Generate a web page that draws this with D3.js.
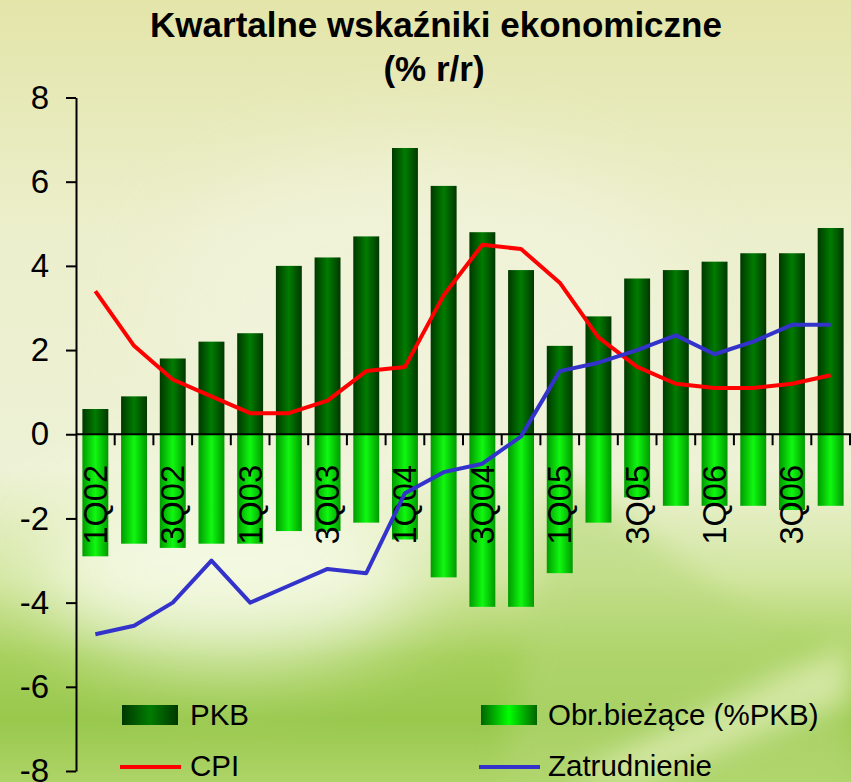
<!DOCTYPE html>
<html>
<head>
<meta charset="utf-8">
<script src="https://cdn.jsdelivr.net/npm/d3@7/dist/d3.min.js"></script>
<style>
  body { margin: 0; padding: 0; overflow: hidden; }
  svg { display: block; font-family: "Liberation Sans", Arial, sans-serif; }
</style>
</head>
<body>
<svg id="chart"></svg>
<script>
'use strict';

// quarters 1Q02 .. 4Q06
const quarters = ['1Q02','2Q02','3Q02','4Q02','1Q03','2Q03','3Q03','4Q03','1Q04','2Q04',
	'3Q04','4Q04','1Q05','2Q05','3Q05','4Q05','1Q06','2Q06','3Q06','4Q06'];

const pkb = [0.6, 0.9, 1.8, 2.2, 2.4, 4.0, 4.2, 4.7, 6.8, 5.9,
	4.8, 3.9, 2.1, 2.8, 3.7, 3.9, 4.1, 4.3, 4.3, 4.9];
const obrBiezace = [-2.9, -2.6, -2.7, -2.6, -2.6, -2.3, -2.3, -2.1, -2.5, -3.4,
	-4.1, -4.1, -3.3, -2.1, -1.5, -1.7, -1.7, -1.7, -1.8, -1.7];
const cpi = [3.4, 2.1, 1.3, 0.9, 0.5, 0.5, 0.8, 1.5, 1.6, 3.3,
	4.5, 4.4, 3.6, 2.3, 1.6, 1.2, 1.1, 1.1, 1.2, 1.4];
const zatrudnienie = [-4.75, -4.55, -4.0, -3.0, -4.0, -3.6, -3.2, -3.3, -1.4, -0.9,
	-0.7, -0.05, 1.5, 1.7, 2.0, 2.35, 1.9, 2.2, 2.6, 2.6];

const yTicks = [-8, -6, -4, -2, 0, 2, 4, 6, 8];

const width = 851, height = 782;
const svg = d3.select('#chart').attr('width', width).attr('height', height);
const defs = svg.append('defs');

// --- background ---
let bg = defs.append('linearGradient').attr('id', 'bg').attr('x1', 0).attr('y1', 0).attr('x2', 0).attr('y2', 1);
[[0, '#e3e5a9'], [0.3, '#ecefcc'], [0.6, '#eef2d6'], [0.74, '#d2e6a0'], [0.84, '#a6d05c'], [0.92, '#98c84c'], [1, '#aed468']]
	.forEach(s => bg.append('stop').attr('offset', s[0]).attr('stop-color', s[1]));

defs.append('filter').attr('id', 'blur').attr('x', '-50%').attr('y', '-50%').attr('width', '200%').attr('height', '200%')
	.append('feGaussianBlur').attr('stdDeviation', 40);
defs.append('filter').attr('id', 'blur2').attr('x', '-50%').attr('y', '-50%').attr('width', '200%').attr('height', '200%')
	.append('feGaussianBlur').attr('stdDeviation', 14);

svg.append('rect').attr('width', width).attr('height', height).attr('fill', 'url(#bg)');
svg.append('ellipse').attr('cx', 230).attr('cy', 570).attr('rx', 190).attr('ry', 90)
	.attr('fill', '#fbfdf0').attr('opacity', 0.8).attr('filter', 'url(#blur)');
svg.append('ellipse').attr('cx', 420).attr('cy', 300).attr('rx', 260).attr('ry', 150)
	.attr('fill', '#f3f5e0').attr('opacity', 0.6).attr('filter', 'url(#blur)');
// greener wedge lower right
svg.append('path').attr('d', 'M560,470 L851,690 L851,782 L500,782 Z')
	.attr('fill', '#b5d878').attr('opacity', 0.55).attr('filter', 'url(#blur2)');
// light streak bottom right
svg.append('path').attr('d', 'M560,782 L851,640 L851,700 L640,782 Z')
	.attr('fill', '#e4f0bc').attr('opacity', 0.7).attr('filter', 'url(#blur2)');

// --- bar gradients ---
let gPkb = defs.append('linearGradient').attr('id', 'gPkb');
[[0, '#003800'], [0.5, '#007c00'], [1, '#003800']]
	.forEach(s => gPkb.append('stop').attr('offset', s[0]).attr('stop-color', s[1]));
let gObr = defs.append('linearGradient').attr('id', 'gObr');
[[0, '#009a00'], [0.5, '#10f810'], [1, '#009a00']]
	.forEach(s => gObr.append('stop').attr('offset', s[0]).attr('stop-color', s[1]));
let gObrLeg = defs.append('linearGradient').attr('id', 'gObrLeg');
[[0, '#006400'], [0.5, '#00ff00'], [1, '#006400']]
	.forEach(s => gObrLeg.append('stop').attr('offset', s[0]).attr('stop-color', s[1]));

// --- scales ---
const x = d3.scaleBand().domain(quarters).range([76, 850]).paddingInner(0.33).paddingOuter(0.165);
const y = d3.scaleLinear().domain([-8, 8]).range([771, 97.5]);
const cx = d => x(d) + x.bandwidth() / 2;

// --- bars ---
svg.append('g').selectAll('rect').data(quarters).join('rect')
	.attr('x', d => x(d)).attr('width', x.bandwidth())
	.attr('y', (d, i) => y(pkb[i])).attr('height', (d, i) => y(0) - y(pkb[i]))
	.attr('fill', 'url(#gPkb)');
svg.append('g').selectAll('rect').data(quarters).join('rect')
	.attr('x', d => x(d)).attr('width', x.bandwidth())
	.attr('y', y(0)).attr('height', (d, i) => y(obrBiezace[i]) - y(0))
	.attr('fill', 'url(#gObr)');

// --- category labels (every second one) ---
svg.append('g').selectAll('text').data(quarters.filter((d, i) => i % 2 === 0)).join('text')
	.attr('transform', d => `translate(${cx(d) + 11.5},465) rotate(-90)`)
	.attr('text-anchor', 'end')
	.attr('font-size', 32.5)
	.attr('fill', '#000')
	.text(d => d);

// --- zero line + category ticks ---
const y0 = y(0);
svg.append('line').attr('x1', 76).attr('x2', 851).attr('y1', y0).attr('y2', y0)
	.attr('stroke', '#000').attr('stroke-width', 2);
svg.append('g').selectAll('line').data(quarters).join('line')
	.attr('x1', d => x(d) - x.step() * x.paddingInner() / 2 + x.step())
	.attr('x2', d => x(d) - x.step() * x.paddingInner() / 2 + x.step())
	.attr('y1', y0).attr('y2', y0 + 11)
	.attr('stroke', '#000').attr('stroke-width', 2);

// --- y axis ---
const yAxis = svg.append('g').attr('transform', 'translate(76,0)')
	.call(d3.axisLeft(y).tickValues(yTicks).tickSize(10).tickSizeOuter(0).tickPadding(17).tickFormat(d => String(d)));
yAxis.select('.domain').attr('stroke-width', 2);
yAxis.selectAll('.tick line').attr('stroke-width', 2);
yAxis.selectAll('.tick text').attr('font-size', 33).attr('font-family', '"Liberation Sans", Arial, sans-serif').attr('fill', '#000');

// --- lines ---
const line = d3.line().x((d, i) => cx(quarters[i])).y(d => y(d));
svg.append('path').datum(cpi).attr('d', line)
	.attr('fill', 'none').attr('stroke', '#ff0000').attr('stroke-width', 4).attr('stroke-linejoin', 'round');
svg.append('path').datum(zatrudnienie).attr('d', line)
	.attr('fill', 'none').attr('stroke', '#3333cc').attr('stroke-width', 4).attr('stroke-linejoin', 'round');

// --- title ---
svg.append('text').attr('x', 436).attr('y', 37).attr('text-anchor', 'middle')
	.attr('font-size', 35).attr('font-weight', 'bold').text('Kwartalne wskaźniki ekonomiczne');
svg.append('text').attr('x', 434).attr('y', 81).attr('text-anchor', 'middle')
	.attr('font-size', 35).attr('font-weight', 'bold').text('(% r/r)');

// --- legend ---
const leg = svg.append('g').attr('font-size', 29.5);
leg.append('rect').attr('x', 122).attr('y', 705).attr('width', 56).attr('height', 20).attr('fill', 'url(#gPkb)');
leg.append('text').attr('x', 190).attr('y', 725).text('PKB');
leg.append('rect').attr('x', 481).attr('y', 705).attr('width', 56).attr('height', 20).attr('fill', 'url(#gObrLeg)');
leg.append('text').attr('x', 548).attr('y', 725).text('Obr.bieżące (%PKB)');
leg.append('line').attr('x1', 120).attr('x2', 181).attr('y1', 767).attr('y2', 767).attr('stroke', '#ff0000').attr('stroke-width', 4);
leg.append('text').attr('x', 190).attr('y', 776).text('CPI');
leg.append('line').attr('x1', 479).attr('x2', 540).attr('y1', 767).attr('y2', 767).attr('stroke', '#3333cc').attr('stroke-width', 4);
leg.append('text').attr('x', 548).attr('y', 776).text('Zatrudnienie');
</script>
</body>
</html>
